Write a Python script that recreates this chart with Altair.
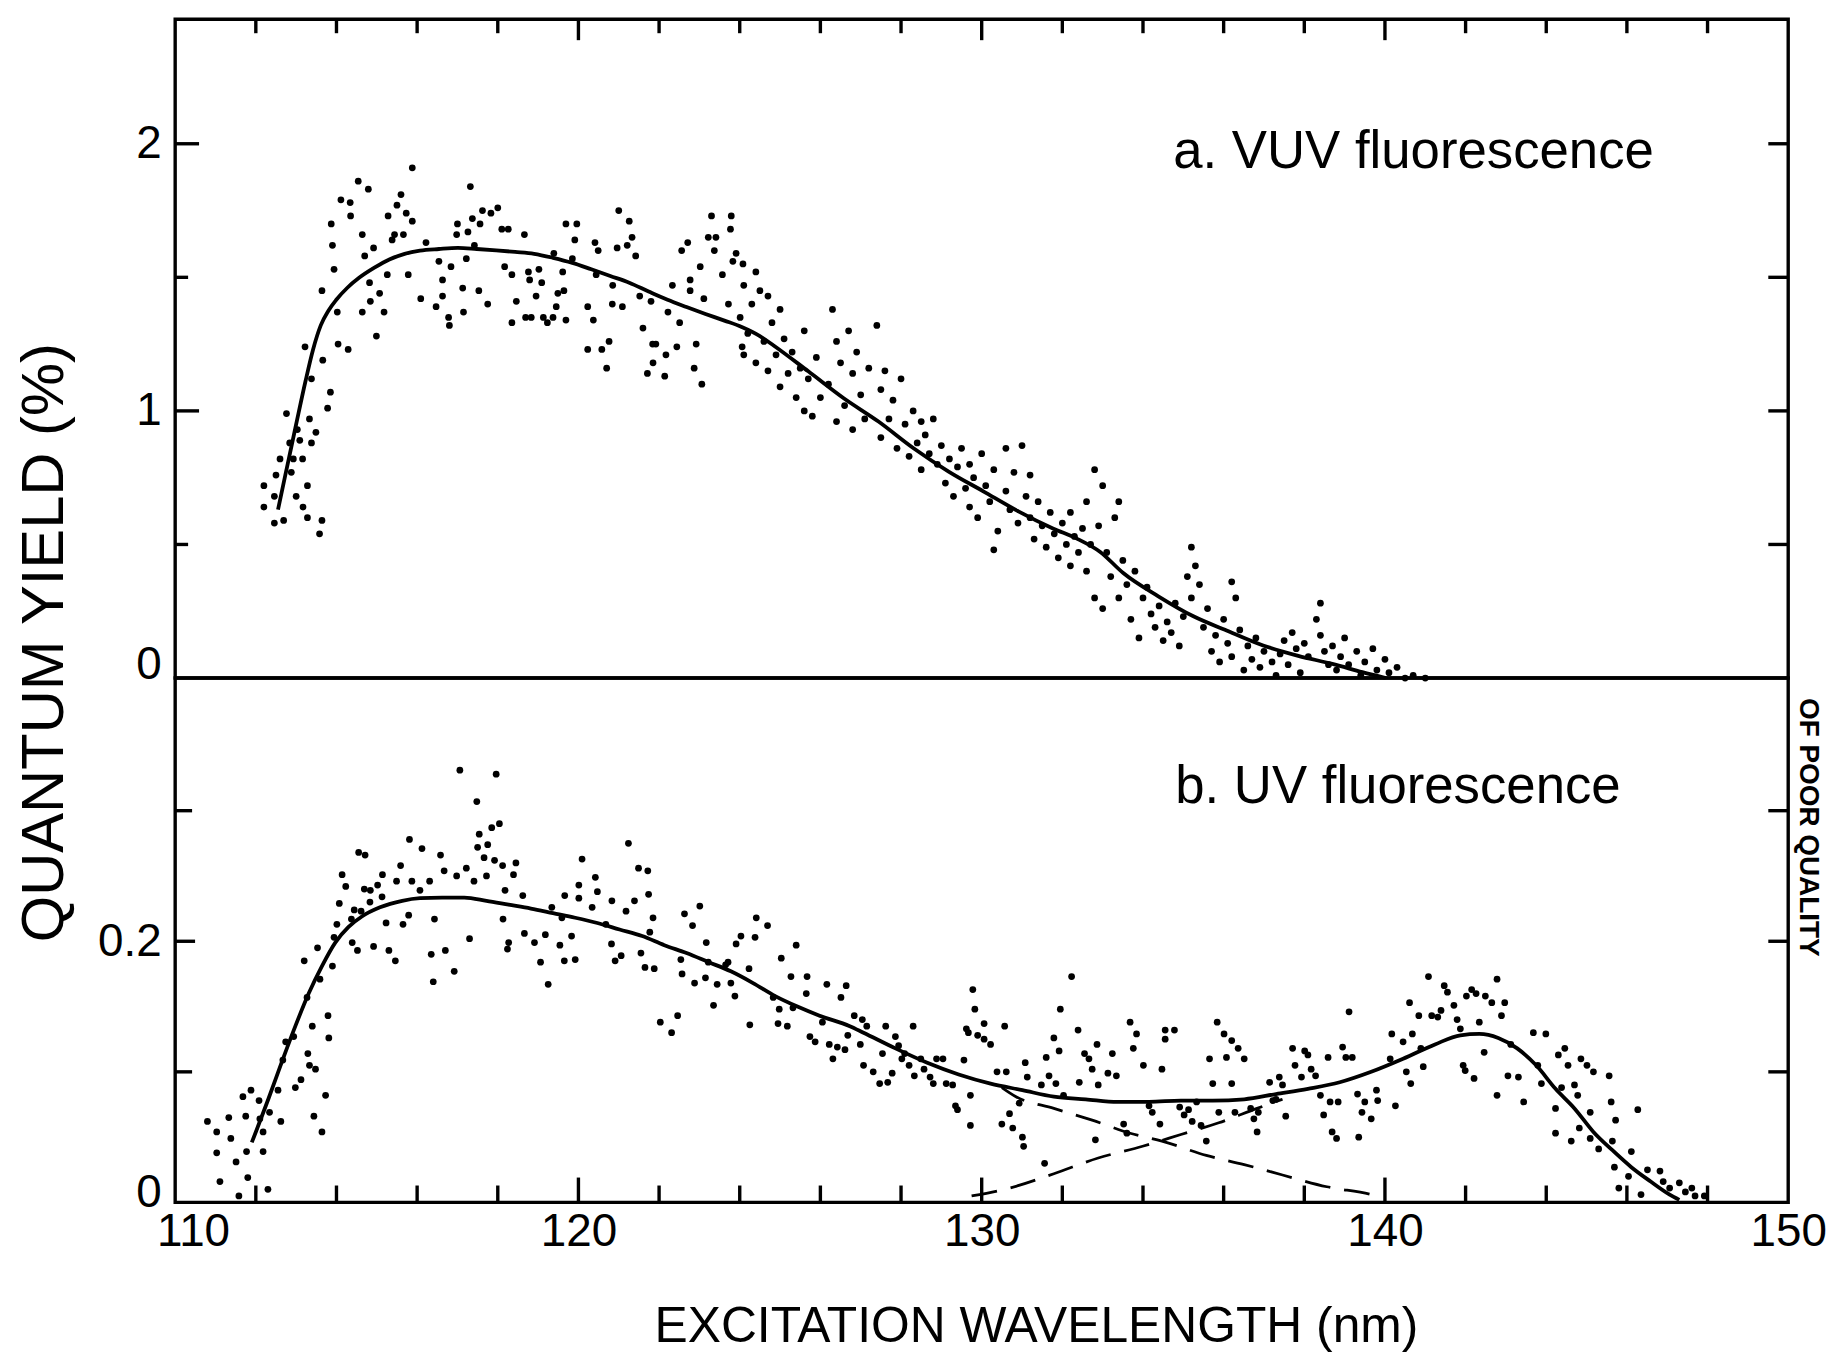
import altair as alt
import pandas as pd

INK = "black"
FONT = "Liberation Sans, Arial, sans-serif"
W, HA, HB = 1621, 662, 527

# ---------------- panel a : VUV fluorescence (quantum yield, %) ----------------
vuv_points_rise = [
    (112.20, 0.72), (112.20, 0.64), (112.46, 0.68), (112.46, 0.58), (112.50, 0.76), (112.60, 0.82), (112.69, 0.59), (112.76, 0.99), (112.84, 0.88), (112.88, 0.77),
    (112.93, 0.82), (113.00, 0.68), (113.03, 0.93), (113.09, 0.89), (113.16, 0.82), (113.17, 0.64), (113.22, 1.24), (113.28, 0.72), (113.28, 0.60), (113.33, 0.97),
    (113.38, 1.12), (113.38, 0.88), (113.49, 0.92), (113.58, 0.54), (113.64, 0.59), (113.64, 1.45), (113.66, 1.19), (113.78, 1.01), (113.85, 1.07), (113.90, 1.62),
    (113.87, 1.70), (113.94, 1.53), (114.02, 1.37), (114.04, 1.25), (114.11, 1.79), (114.29, 1.23), (114.35, 1.73), (114.34, 1.78), (114.54, 1.86), (114.64, 1.66),
    (114.70, 1.58), (114.64, 1.37), (114.79, 1.83), (114.82, 1.48), (114.84, 1.41), (114.92, 1.61), (114.99, 1.28), (115.07, 1.44), (115.18, 1.37), (115.26, 1.51),
    (115.28, 1.73), (115.38, 1.64), (115.44, 1.66), (115.50, 1.77), (115.60, 1.81), (115.66, 1.66), (115.73, 1.74), (115.78, 1.51), (115.88, 1.91), (115.88, 1.71),
    (116.09, 1.42), (116.22, 1.63), (116.47, 1.39), (116.54, 1.56), (116.63, 1.43), (116.63, 1.49), (116.78, 1.35), (116.80, 1.32), (116.84, 1.54), (116.98, 1.66),
    (117.00, 1.70), (117.13, 1.46), (117.15, 1.37), (117.22, 1.57), (117.26, 1.67), (117.32, 1.84), (117.37, 1.72), (117.42, 1.62), (117.53, 1.45), (117.56, 1.70),
    (117.62, 1.75), (117.75, 1.40), (117.83, 1.74), (118.00, 1.76), (118.10, 1.68), (118.17, 1.54), (118.26, 1.68), (118.35, 1.51), (118.35, 1.33), (118.46, 1.41),
    (118.66, 1.66), (118.69, 1.35), (118.76, 1.52), (118.79, 1.49), (118.83, 1.35), (118.95, 1.43), (119.02, 1.53), (119.09, 1.48), (119.13, 1.35), (119.23, 1.33),
    (119.37, 1.35), (119.39, 1.59), (119.45, 1.39), (119.49, 1.44), (119.64, 1.45), (119.61, 1.52), (119.69, 1.34), (119.69, 1.70), (119.85, 1.57), (119.91, 1.64),
    (119.96, 1.70), (120.23, 1.39), (120.23, 1.23), (120.37, 1.34), (120.41, 1.63), (120.44, 1.51), (120.49, 1.60), (120.58, 1.23), (120.70, 1.16), (120.76, 1.26),
    (120.85, 1.47), (120.84, 1.40), (121.00, 1.75), (120.96, 1.61), (121.09, 1.39), (121.21, 1.62), (121.26, 1.71), (121.33, 1.65), (121.42, 1.58), (121.52, 1.43),
    (121.60, 1.31), (121.71, 1.14), (121.80, 1.41), (121.84, 1.25), (121.92, 1.25), (121.85, 1.18), (122.14, 1.13), (122.17, 1.21), (122.22, 1.37), (122.33, 1.47),
    (122.44, 1.24), (122.51, 1.33), (122.56, 1.60), (122.71, 1.63), (122.77, 1.49), (122.77, 1.45), (122.87, 1.16), (122.92, 1.25), (123.02, 1.54), (123.06, 1.10),
    (123.11, 1.42), (123.22, 1.65), (123.30, 1.73), (123.37, 1.60), (123.41, 1.65), (123.57, 1.51), (123.72, 1.40), (123.79, 1.73), (123.77, 1.68), (123.83, 1.56),
    (123.91, 1.59), (124.06, 1.24), (124.08, 1.55), (124.01, 1.35),
]
vuv_points_fall = [
    (124.1, 1.47), (124.1, 1.21), (124.2, 1.29), (124.3, 1.40), (124.4, 1.18), (124.4, 1.52), (124.5, 1.45), (124.6, 1.26), (124.7, 1.43), (124.7, 1.15),
    (124.8, 1.33), (124.9, 1.21), (125.0, 1.09), (125.0, 1.38), (125.1, 1.27), (125.2, 1.14), (125.3, 1.22), (125.4, 1.05), (125.5, 1.16), (125.6, 1.00),
    (125.6, 1.30), (125.7, 1.12), (125.8, 0.98), (125.9, 1.20), (126.0, 1.05), (126.2, 1.10), (126.3, 1.38), (126.4, 1.26), (126.4, 0.96), (126.5, 1.18),
    (126.6, 1.02), (126.7, 1.30), (126.8, 1.14), (126.8, 0.93), (126.9, 1.22), (127.0, 1.06), (127.1, 0.97), (127.2, 1.16), (127.4, 1.32), (127.5, 1.08),
    (127.5, 0.90), (127.6, 1.15), (127.7, 0.97), (127.8, 1.04), (127.9, 0.86), (128.0, 1.12), (128.1, 0.95), (128.2, 0.83), (128.3, 1.00), (128.4, 0.88),
    (128.5, 0.96), (128.5, 0.78), (128.6, 0.91), (128.7, 0.84), (128.8, 0.97), (128.9, 0.80), (129.0, 0.87), (129.1, 0.73), (129.2, 0.82), (129.3, 0.68),
    (129.4, 0.79), (129.5, 0.86), (129.6, 0.71), (129.7, 0.64), (129.7, 0.80), (129.8, 0.75), (129.9, 0.60), (130.0, 0.84), (130.1, 0.72), (130.2, 0.66),
    (130.3, 0.78), (130.3, 0.48), (130.4, 0.55), (130.6, 0.70), (130.6, 0.86), (130.7, 0.63), (130.8, 0.77), (130.9, 0.58), (131.0, 0.87), (131.1, 0.68),
    (131.2, 0.60), (131.2, 0.76), (131.3, 0.52), (131.4, 0.66), (131.5, 0.57), (131.6, 0.49), (131.7, 0.62), (131.8, 0.54), (131.9, 0.45), (132.0, 0.58),
    (132.1, 0.50), (132.2, 0.42), (132.2, 0.62), (132.3, 0.53), (132.4, 0.47), (132.5, 0.56), (132.6, 0.40), (132.6, 0.66), (132.7, 0.50), (132.8, 0.78),
    (132.8, 0.30), (132.9, 0.57), (133.0, 0.72), (133.0, 0.26), (133.1, 0.47), (133.2, 0.38), (133.3, 0.60), (133.4, 0.66), (133.4, 0.30), (133.5, 0.44),
    (133.6, 0.35), (133.7, 0.22), (133.8, 0.40), (133.9, 0.15), (134.0, 0.30), (134.1, 0.34), (134.2, 0.24), (134.3, 0.19), (134.4, 0.27), (134.5, 0.14),
    (134.6, 0.21), (134.7, 0.17), (134.8, 0.28), (134.9, 0.12), (135.0, 0.23), (135.1, 0.38), (135.2, 0.49), (135.2, 0.30), (135.3, 0.42), (135.4, 0.35),
    (135.5, 0.19), (135.6, 0.26), (135.7, 0.10), (135.8, 0.16), (135.9, 0.06), (136.0, 0.22), (136.1, 0.13), (136.2, 0.36), (136.2, 0.08), (136.3, 0.30),
    (136.4, 0.18), (136.5, 0.03), (136.6, 0.12), (136.7, 0.07), (136.8, 0.15), (136.9, 0.04), (137.0, 0.10), (137.2, 0.06), (137.3, 0.01), (137.4, 0.09),
    (137.5, 0.14), (137.6, 0.05), (137.7, 0.17), (137.8, 0.11), (137.9, 0.02), (138.0, 0.13), (138.1, 0.08), (138.3, 0.22), (138.4, 0.28), (138.4, 0.16),
    (138.5, 0.10), (138.6, 0.05), (138.7, 0.12), (138.8, 0.03), (138.9, 0.08), (139.0, 0.15), (139.1, 0.05), (139.3, 0.10), (139.4, 0.01), (139.5, 0.06),
    (139.7, 0.11), (139.8, 0.03), (140.0, 0.07), (140.1, 0.02), (140.3, 0.04), (140.5, 0.00), (140.7, 0.01), (141.0, 0.00),
]
vuv_curve = [
    (112.55, 0.63), (112.76, 0.78), (113.00, 0.95), (113.23, 1.11), (113.42, 1.23), (113.61, 1.32), (113.80, 1.375), (113.99, 1.415),
    (114.27, 1.461), (114.56, 1.498), (114.94, 1.536), (115.31, 1.567), (115.69, 1.588), (116.07, 1.600), (116.54, 1.606), (117.01, 1.610),
    (117.48, 1.606), (117.96, 1.601), (118.43, 1.595), (118.90, 1.588), (119.37, 1.573), (119.85, 1.554), (120.32, 1.530), (120.79, 1.505),
    (121.26, 1.480), (121.74, 1.447), (122.21, 1.416), (122.68, 1.389), (123.15, 1.363), (123.62, 1.338), (124.05, 1.314), (124.50, 1.280),
    (124.84, 1.245), (125.70, 1.148), (126.57, 1.048), (127.44, 0.960), (128.31, 0.860), (129.18, 0.773), (130.04, 0.699), (130.91, 0.624),
    (131.78, 0.559), (132.36, 0.522), (132.94, 0.472), (133.51, 0.393), (134.38, 0.306), (135.25, 0.231), (136.12, 0.175), (136.98, 0.122),
    (137.85, 0.083), (138.72, 0.052), (139.44, 0.022), (140.02, 0.0),
]

# ---------------- panel b : UV fluorescence (quantum yield, %) ----------------
uv_points_rise = [
    (110.80, .062), (111.03, .054), (111.03, .038), (111.11, .016), (111.33, .065), (111.38, .049), (111.51, .031), (111.58, .005), (111.68, .081), (111.75, .066),
    (111.77, .039), (111.80, .019), (111.88, .086), (112.08, .078), (112.10, .064), (112.18, .054), (112.18, .039), (112.30, .010), (112.34, .069), (112.55, .086),
    (112.62, .062), (112.67, .109), (112.74, .123), (112.94, .127), (112.98, .088), (113.12, .094), (113.20, .185), (113.27, .157), (113.29, .114), (113.33, .105),
    (113.40, .135), (113.44, .066), (113.48, .102), (113.53, .195), (113.59, .171), (113.64, .054), (113.73, .082), (113.79, .143), (113.81, .126), (113.90, .181),
    (113.94, .203), (114.01, .213), (114.07, .229), (114.14, .251), (114.23, .242), (114.37, .217), (114.39, .199), (114.44, .224), (114.52, .193), (114.55, .268),
    (114.61, .223), (114.71, .266), (114.69, .240), (114.83, .230), (114.84, .239), (114.92, .196), (115.02, .243), (115.13, .234), (115.14, .251), (115.23, .214),
    (115.30, .193), (115.46, .185), (115.49, .246), (115.59, .258), (115.65, .213), (115.79, .220), (115.81, .278), (115.87, .246), (116.07, .239), (116.12, .271),
    (116.31, .246), (116.35, .190), (116.40, .169), (116.43, .217), (116.58, .266), (116.67, .254), (116.70, .193), (116.92, .177), (116.98, .250), (117.06, .331),
    (117.22, .256), (117.30, .202), (117.41, .246), (117.48, .307), (117.54, .282), (117.50, .272), (117.66, .264), (117.72, .250), (117.75, .274), (117.85, .287),
    (117.92, .262), (117.96, .328), (118.04, .290), (118.12, .258), (118.18, .239), (118.13, .217), (118.24, .194), (118.27, .199), (118.39, .251), (118.45, .260),
    (118.62, .235), (118.66, .206), (118.91, .199), (119.06, .184), (119.18, .205), (119.25, .167), (119.34, .226), (119.54, .197), (119.59, .218), (119.65, .185),
    (119.66, .235), (119.83, .204), (119.92, .186), (120.01, .243), (120.01, .233), (120.09, .263), (120.34, .226), (120.42, .249), (120.47, .238), (120.68, .213),
    (120.82, .198), (120.83, .231), (120.91, .185), (121.06, .189), (121.18, .223), (121.24, .275), (121.39, .231), (121.49, .256), (121.55, .191), (121.65, .180),
    (121.72, .254), (121.77, .207), (121.74, .236), (121.85, .218), (121.88, .179), (122.03, .138), (122.31, .130), (122.46, .143), (122.54, .186), (122.57, .175),
    (122.63, .221), (122.83, .212), (122.88, .168), (123.01, .227), (123.17, .199), (123.22, .184), (123.15, .172), (123.35, .151), (123.44, .167), (123.65, .182),
    (123.71, .184), (123.78, .168), (123.88, .158), (123.91, .198), (124.03, .204), (124.25, .136), (124.23, .179), (124.38, .203), (124.41, .218), (124.69, .212),
    (124.83, .157), (124.95, .137), (124.98, .148), (125.03, .187), (125.18, .135), (125.27, .173), (125.32, .149), (125.40, .197), (125.65, .160), (125.67, .173),
    (125.74, .127), (125.87, .123), (126.05, .138), (126.16, .167), (126.22, .121), (126.31, .110), (126.51, .157), (126.64, .166), (126.42, .119), (126.61, .117),
]
uv_points_fall = [
    (126.68, .128), (126.84, .143), (127.04, .140), (127.15, .135), (126.99, .121), (127.07, .105), (127.31, .100), (127.47, .091), (127.62, .135), (127.67, .092),
    (127.78, .099), (127.54, .114), (127.86, .127), (127.94, .120), (128.02, .110), (128.09, .114), (128.20, .105), (128.30, .135), (128.33, .097), (128.49, .110),
    (128.57, .102), (128.72, .096), (128.80, .091), (128.88, .110), (129.04, .110), (129.12, .091), (129.28, .090), (129.35, .074), (129.40, .071), (129.56, .109),
    (129.62, .133), (129.67, .130), (129.72, .082), (129.72, .059), (129.78, .163), (129.83, .148), (129.90, .128), (130.06, .137), (130.06, .125), (130.22, .121),
    (130.38, .100), (130.50, .060), (130.57, .135), (130.61, .100), (130.69, .068), (130.77, .057), (130.93, .076), (131.01, .050), (131.04, .043), (131.08, .107),
    (131.13, .096), (131.48, .090), (131.56, .030), (131.60, .111), (131.67, .097), (131.79, .126), (131.84, .091), (131.92, .116), (131.95, .148), (132.03, .082),
    (132.23, .173), (132.39, .132), (132.42, .092), (132.55, .114), (132.66, .110), (132.74, .102), (132.82, .048), (132.86, .121), (132.89, .090), (133.13, .099),
    (133.24, .114), (133.34, .097), (133.52, .060), (133.60, .053), (133.68, .138), (133.76, .118), (133.84, .129), (134.01, .105), (134.15, .074), (134.23, .069),
    (134.42, .060), (134.47, .102), (134.55, .132), (134.55, .125), (134.78, .132), (134.91, .073), (135.02, .067), (135.13, .071), (135.22, .062), (135.33, .077),
    (135.44, .059), (135.57, .047), (135.65, .110), (135.73, .091), (135.84, .138), (135.88, .069), (136.01, .129), (136.07, .111), (136.20, .124), (136.20, .091),
    (136.28, .069), (136.36, .118), (136.51, .110), (136.67, .072), (136.75, .064), (136.83, .054), (136.86, .069), (137.14, .092), (137.22, .078), (137.30, .079),
    (137.38, .096), (137.46, .090), (137.54, .066), (137.71, .118), (137.77, .105), (137.93, .096), (138.01, .116), (138.09, .113), (138.17, .102), (138.28, .097),
    (138.40, .082), (138.48, .067), (138.59, .111), (138.64, .077), (138.69, .054), (138.80, .049), (138.84, .077), (138.95, .119), (139.03, .111), (139.11, .146),
    (139.19, .111), (139.32, .083), (139.35, .050), (139.43, .069), (139.50, .077), (139.66, .064), (139.79, .086), (139.82, .078), (140.13, .110), (140.17, .129),
    (140.26, .074), (140.45, .123), (140.53, .100), (140.61, .153), (140.64, .091), (140.68, .129), (140.84, .143), (140.89, .118), (140.95, .104), (141.08, .173),
    (141.16, .143), (141.31, .142), (141.39, .147), (141.47, .166), (141.55, .161), (141.71, .151), (141.79, .140), (141.87, .133), (141.94, .105), (141.99, .101),
    (142.02, .158), (142.15, .163), (142.21, .095), (142.26, .160), (142.34, .138), (142.46, .115), (142.49, .158), (142.65, .153), (142.78, .171), (142.78, .082),
    (142.89, .143), (142.97, .153), (143.05, .097), (143.12, .121), (143.31, .096), (143.44, .077), (143.68, .130), (143.79, .105), (143.88, .091), (143.99, .129),
    (144.23, .072), (144.30, .113), (144.23, .053), (144.38, .088), (144.46, .118), (144.54, .105), (144.62, .047), (144.70, .090), (144.78, .082), (144.82, .057),
    (144.86, .110), (145.01, .105), (145.09, .069), (145.09, .049), (145.17, .100), (145.30, .041), (145.56, .097), (145.61, .077), (145.64, .047), (145.72, .063),
    (145.69, .027), (145.80, .011), (146.04, .020), (146.11, .039), (146.27, .071), (146.35, .006), (146.51, .025), (146.82, .024), (146.90, .016), (147.06, .011),
    (147.30, .015), (147.45, .008), (147.61, .011), (147.69, .005), (147.92, .005),
]
uv_curve = [
    (111.90, 0.046), (112.32, 0.080), (112.65, 0.108), (112.98, 0.135), (113.31, 0.160), (113.64, 0.181), (113.97, 0.199), (114.30, 0.211),
    (114.63, 0.219), (115.08, 0.226), (115.63, 0.231), (116.07, 0.233), (116.62, 0.2335), (117.17, 0.2335), (117.72, 0.231), (118.27, 0.228),
    (118.82, 0.2250), (119.37, 0.2215), (119.92, 0.218), (120.47, 0.214), (121.02, 0.209), (121.58, 0.204), (122.13, 0.197), (122.68, 0.191),
    (123.23, 0.184), (123.78, 0.177), (124.33, 0.168), (124.88, 0.158), (125.43, 0.150), (125.98, 0.143), (126.73, 0.135), (127.07, 0.130),
    (127.86, 0.118), (128.65, 0.107), (129.43, 0.098), (130.22, 0.091), (131.01, 0.086), (131.79, 0.081), (132.58, 0.079), (133.37, 0.077),
    (134.15, 0.077), (134.94, 0.078), (135.73, 0.078), (136.51, 0.079), (137.30, 0.083), (138.09, 0.087), (138.88, 0.092), (139.66, 0.100),
    (140.45, 0.110), (141.24, 0.121), (141.87, 0.128), (142.34, 0.129), (142.81, 0.126), (143.28, 0.118), (143.75, 0.105), (144.23, 0.087),
    (144.70, 0.072), (145.17, 0.054), (145.64, 0.040), (146.11, 0.027), (146.59, 0.016), (147.06, 0.006), (147.30, 0.002),
]
uv_dash_fall = [
    (130.50, 0.088), (130.85, 0.081), (131.79, 0.072), (132.74, 0.063), (133.68, 0.053), (134.47, 0.047), (135.57, 0.036),
    (136.51, 0.029), (137.46, 0.021), (138.56, 0.012), (139.66, 0.006), (139.90, 0.004),
]
uv_dash_rise = [
    (129.75, 0.005), (130.69, 0.011), (131.79, 0.022), (132.89, 0.034), (133.99, 0.043), (134.94, 0.052),
    (135.88, 0.061), (136.83, 0.072), (137.46, 0.079),
]

# ---------------- axes ----------------
x_domain = [110, 150]
x_label_values = [110, 120, 130, 140, 150]
x_major_ticks = [120, 130, 140]
x_minor_ticks = [112, 114, 116, 118, 122, 124, 126, 128, 132, 134, 136, 138, 142, 144, 146, 148]
vuv_domain = [0, 2.466]
vuv_label_values = [0, 1, 2]
vuv_major_ticks = [1, 2]
vuv_minor_ticks = [0.5, 1.5]
uv_domain = [0, 0.4016]
uv_label_values = [0, 0.2]
uv_major_ticks = [0.2]
uv_minor_ticks = [0.1, 0.3]


def pairs(p):
    return pd.DataFrame(p, columns=["wl", "qy"])


def vals(v, col):
    return pd.DataFrame({col: v})


def first_label_shift(first, shift):
    return {"condition": {"test": f"datum.value == {first}", "value": shift}, "value": 0}


xs = alt.Scale(domain=x_domain, nice=False, zero=False)
ya = alt.Scale(domain=vuv_domain, nice=False, zero=False)
yb = alt.Scale(domain=uv_domain, nice=False, zero=False)

lab = dict(labelFont=FONT, labelFontSize=46, labelColor=INK, labelFlush=False, labelOverlap=False,
           ticks=False, domain=False, grid=False)

ya_axis = alt.Axis(values=vuv_label_values, format="d", labelPadding=14, labelOffset=first_label_shift(0, -14),
                   title="QUANTUM YIELD (%)", titleFont=FONT, titleFontSize=60, titleFontWeight="normal",
                   titleColor=INK, titleAngle=270, titleAlign="center", titleBaseline="alphabetic",
                   titleX=-113, titleY=626, **lab)
x_axis = alt.Axis(values=x_label_values, format="d", labelPadding=7, labelOffset=first_label_shift(110, 18),
                  title="EXCITATION  WAVELENGTH (nm)", titleFont=FONT, titleFontSize=50, titleFontWeight="normal",
                  titleColor=INK, titleAlign="center", titleBaseline="alphabetic", titleX=865, titleY=140, **lab)
yb_axis = alt.Axis(values=uv_label_values, labelPadding=14, labelOffset=first_label_shift(0, -10), title="",
                   labelExpr="datum.value == 0 ? '0' : format(datum.value, '.1f')", **lab)

# the same axis definition is given to every layer of a panel so that they merge
XA = lambda f="wl:Q": alt.X(f, scale=xs, axis=None)          # top panel: no x axis
XB = lambda f="wl:Q": alt.X(f, scale=xs, axis=x_axis)        # bottom panel x axis
YA = lambda f="qy:Q": alt.Y(f, scale=ya, axis=ya_axis)
YB = lambda f="qy:Q": alt.Y(f, scale=yb, axis=yb_axis)

DOT = dict(size=46, color=INK, opacity=1)
CURVE = dict(color=INK, strokeWidth=3.8, interpolate="monotone")
DASH = dict(color=INK, strokeWidth=2.8, strokeDash=[26, 14], interpolate="monotone")
TICK = dict(color=INK, strokeWidth=3.4)


def yrule(v, Y, x0, x1):
    return alt.Chart(vals(v, "v")).mark_rule(**TICK).encode(y=Y("v:Q"), x=alt.value(x0), x2=alt.value(x1))


def xrule(v, X, y0, y1):
    return alt.Chart(vals(v, "v")).mark_rule(**TICK).encode(x=X("v:Q"), y=alt.value(y0), y2=alt.value(y1))


# ---------- top panel ----------
a_pts = alt.Chart(pairs(vuv_points_rise + vuv_points_fall)).mark_circle(**DOT).encode(x=XA(), y=YA())
a_line = alt.Chart(pairs(vuv_curve)).mark_line(**CURVE).encode(x=XA(), y=YA())
a_text = alt.Chart(pd.DataFrame({"wl": [134.75], "qy": [1.91], "t": ["a. VUV fluorescence"]})).mark_text(
    align="left", baseline="alphabetic", font=FONT, fontSize=53, color=INK).encode(x=XA(), y=YA(), text="t:N")

top = alt.layer(
    a_pts, a_line,
    yrule(vuv_major_ticks, YA, 0, 24), yrule(vuv_minor_ticks, YA, 0, 13),
    yrule(vuv_major_ticks + vuv_minor_ticks, YA, W - 20, W),
    xrule(x_major_ticks, XA, 0, 21), xrule(x_minor_ticks, XA, 0, 14),
    a_text,
).properties(width=W, height=HA)

# ---------- bottom panel ----------
b_pts = alt.Chart(pairs(uv_points_rise + uv_points_fall)).mark_circle(**DOT).encode(x=XB(), y=YB())
b_line = alt.Chart(pairs(uv_curve)).mark_line(**CURVE).encode(x=XB(), y=YB())
b_d1 = alt.Chart(pairs(uv_dash_fall)).mark_line(**DASH).encode(x=XB(), y=YB())
b_d2 = alt.Chart(pairs(uv_dash_rise)).mark_line(**DASH).encode(x=XB(), y=YB())
b_text = alt.Chart(pd.DataFrame({"wl": [134.80], "qy": [0.306], "t": ["b. UV fluorescence"]})).mark_text(
    align="left", baseline="alphabetic", font=FONT, fontSize=53, color=INK).encode(x=XB(), y=YB(), text="t:N")
stamp = alt.Chart(pd.DataFrame({"t": ["OF POOR QUALITY"]})).mark_text(
    angle=90, align="center", baseline="middle", font=FONT, fontSize=28, fontWeight="bold", color=INK).encode(
    x=alt.value(W + 20), y=alt.value(150), text="t:N")

bottom = alt.layer(
    b_pts, b_line, b_d1, b_d2,
    yrule(uv_major_ticks, YB, 0, 20), yrule(uv_minor_ticks, YB, 0, 17),
    yrule(uv_major_ticks + uv_minor_ticks, YB, W - 20, W),
    xrule(x_major_ticks, XB, HB - 25, HB), xrule(x_minor_ticks, XB, HB - 17, HB),
    b_text, stamp,
).properties(width=W, height=HB)

chart = alt.vconcat(top, bottom, spacing=0, bounds="flush").properties(
    padding={"left": 5, "top": 4, "right": 0, "bottom": 0}, background="white"
).configure_view(stroke=INK, strokeWidth=3.4)

chart.save("out.html", embed_options={"renderer": "svg", "actions": False})
